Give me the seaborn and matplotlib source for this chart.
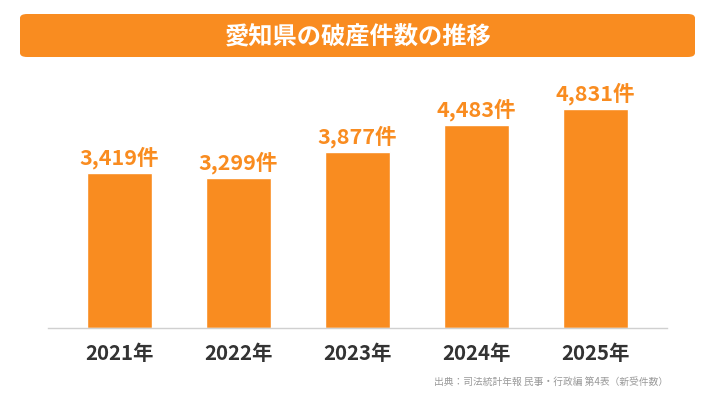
import matplotlib
matplotlib.use("Agg")
import matplotlib.pyplot as plt
from matplotlib.patches import FancyBboxPatch
import pandas as pd
import seaborn as sns

# data
years = ["2021年", "2022年", "2023年", "2024年", "2025年"]
cases = [3419, 3299, 3877, 4483, 4831]

title = "愛知県の破産件数の推移"
source = "出典：司法統計年報 民事・行政編 第4表（新受件数）"

orange = "#F98C20"

sns.set_theme(style="white")
plt.rcParams['font.family'] = ['Noto Sans CJK JP', 'DejaVu Sans']

df = pd.DataFrame({"year": years, "cases": cases})

fig = plt.figure(figsize=(7.16, 4.03), dpi=100)
ax = fig.add_axes([0.067, 0.1861, 0.8645, 0.6154])

sns.barplot(data=df, x="year", y="cases", color=orange, saturation=1,
            width=0.55, ax=ax)

ax.set_xlim(-0.6, 4.6)
ax.set_ylim(0, 5471)
ax.set_xlabel("")
ax.set_ylabel("")
ax.set_yticks([])
for s in ["top", "left", "right"]:
    ax.spines[s].set_visible(False)
ax.spines["bottom"].set_color("#d0d0d0")
ax.spines["bottom"].set_linewidth(1.0)
ax.tick_params(axis="x", length=0, pad=11)
for lbl in ax.get_xticklabels():
    lbl.set_fontsize(14.7)
    lbl.set_fontweight("bold")
    lbl.set_color("#333333")

# value labels
for i, v in enumerate(cases):
    ax.annotate(f"{v:,}件", (i, v), xytext=(0, 3), textcoords="offset points",
                ha="center", va="bottom", fontsize=15.5, fontweight="bold",
                color=orange)

# title banner
banner = FancyBboxPatch((20 / 716, 1 - 57 / 403), 675 / 716, 43 / 403,
                        boxstyle="round,pad=0,rounding_size=0.01",
                        transform=fig.transFigure, facecolor=orange,
                        edgecolor="none")
fig.patches.append(banner)
fig.text(358 / 716, 1 - 36 / 403, title, ha="center", va="center",
         fontsize=17.5, fontweight="bold", color="white")

fig.text(668 / 716, 1 - 382 / 403, source, ha="right", va="center",
         fontsize=7, color="#999999")

fig.savefig("out.png", dpi=100)
